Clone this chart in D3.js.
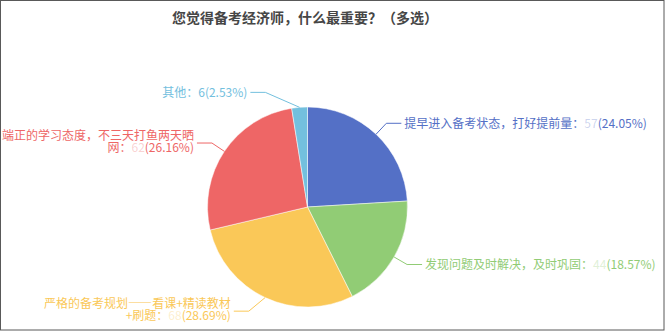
<!DOCTYPE html>
<html>
<head>
<meta charset="utf-8">
<script src="https://cdn.jsdelivr.net/npm/d3@7"></script>
<style>
  html, body { margin: 0; padding: 0; background: #fff; }
  svg { display: block; font-family: "Noto Sans CJK SC", "Noto Sans", sans-serif; }
  .fw { font-variant-east-asian: full-width; font-feature-settings: "fwid" 1; }
</style>
</head>
<body>
<svg id="chart" width="665" height="332"></svg>
<script>
// answers, counts (other = 6 -> 2.53%)
const names = [
  '提早进入备考状态，打好提前量',
  '发现问题及时解决，及时巩固',
  '严格的备考规划——看课+精读教材+刷题',
  '端正的学习态度，不三天打鱼两天晒网',
  '其他'
];
const counts = [57, 44, 68, 62, 6];
const colors = ['#5470c6', '#91cc75', '#fac858', '#ee6666', '#73c0de'];
const title = '您觉得备考经济师，什么最重要？（多选）';

const svg = d3.select('#chart');
const width = +svg.attr('width');
const height = +svg.attr('height');

// frame
svg.append('rect')
  .attr('x', 0.5).attr('y', 0.5)
  .attr('width', width - 1.5).attr('height', height - 2.5)
  .attr('fill', 'none')
  .attr('stroke', '#595959')
  .attr('stroke-width', 1);

svg.append('text')
  .attr('x', 305)
  .attr('y', 18)
  .attr('dy', '0.35em')
  .attr('text-anchor', 'middle')
  .style('font-size', '14px')
  .style('font-weight', 'bold')
  .attr('fill', '#464646')
  .text(title);

const cx = 307.5, cy = 207, r = 100;
const total = d3.sum(counts);
const color = d3.scaleOrdinal().domain(names).range(colors);

const data = names.map((n, i) => ({ name: n, value: counts[i] }));
const pie = d3.pie().sort(null).value(d => d.value);
const arcs = pie(data);
const arc = d3.arc().innerRadius(0).outerRadius(r);

const g = svg.append('g').attr('transform', 'translate(' + cx + ',' + cy + ')');

g.selectAll('path.slice')
  .data(arcs)
  .enter().append('path')
  .attr('class', 'slice')
  .attr('d', arc)
  .attr('fill', d => color(d.data.name))
  .attr('stroke', '#fff')
  .attr('stroke-width', 0.5);

// label layout
const len1 = 15, len2 = 15, maxW = 196, lineH = 12;
// horizontal nudges where labels got pushed aside in the original
const nudge = { 2: -10, 4: -33 };

// measure with a hidden svg text so widths match what gets drawn
const probe = svg.append('text').style('font-size', '12px').attr('visibility', 'hidden');
const cache = {};
function charW(ch, fw) {
  const k = ch + (fw ? '1' : '0');
  if (cache[k] == null) {
    probe.attr('class', fw ? 'fw' : null).text(ch);
    cache[k] = probe.node().getComputedTextLength();
  }
  return cache[k];
}

// each run: {t, faded, fw}; em dashes get the full-width glyphs,
// a '+' stays on the line of the character after it
function wrap(segs, limit) {
  const chars = [];
  segs.forEach(s => { for (const ch of s.t) chars.push({ ch: ch, faded: s.faded, fw: ch === '—' }); });
  const lines = [[]];
  let w = 0;
  chars.forEach((c, j) => {
    const cw = charW(c.ch, c.fw);
    let need = cw;
    if (c.ch === '+' && chars[j + 1]) need += charW(chars[j + 1].ch, chars[j + 1].fw);
    if (w > 0 && w + need > limit) { lines.push([]); w = 0; }
    const line = lines[lines.length - 1];
    const last = line[line.length - 1];
    if (last && last.faded === c.faded && last.fw === c.fw) last.t += c.ch;
    else line.push({ t: c.ch, faded: c.faded, fw: c.fw });
    w += cw;
  });
  return lines;
}

arcs.forEach((d, i) => {
  const a = (d.startAngle + d.endAngle) / 2;
  const sx = Math.sin(a), sy = -Math.cos(a);
  const p1 = [sx * r, sy * r];
  const p2 = [sx * (r + len1) + (nudge[i] || 0), sy * (r + len1)];
  const right = sx >= 0;
  const p3 = [p2[0] + (right ? len2 : -len2), p2[1]];
  const c = color(d.data.name);

  g.append('polyline')
    .attr('points', [p1, p2, p3].map(p => p.join(',')).join(' '))
    .attr('fill', 'none')
    .attr('stroke', c)
    .attr('stroke-width', 1);

  const pct = (d.data.value / total * 100).toFixed(2);
  const segs = [
    { t: d.data.name + '：', faded: false },
    { t: String(d.data.value), faded: i !== 4 },
    { t: '(' + pct + '%)', faded: false }
  ];
  const tx = p3[0] + (right ? 3 : -3);
  const room = right ? width - (cx + tx) - 4 : cx + tx;
  const lines = wrap(segs, right ? room : Math.min(room, maxW));
  const y0 = p3[1] - (lines.length - 1) * lineH / 2 - (lines.length > 1 ? 1.5 : 0);
  lines.forEach((line, k) => {
    const t = g.append('text')
      .attr('x', tx)
      .attr('y', y0 + k * lineH)
      .attr('dy', '0.35em')
      .attr('text-anchor', right ? 'start' : 'end')
      .style('font-size', '12px')
      .attr('fill', c);
    line.forEach(s => {
      t.append('tspan')
        .attr('class', s.fw ? 'fw' : null)
        .attr('fill-opacity', s.faded ? 0.3 : 1)
        .text(s.t);
    });
  });
});
probe.remove();
</script>
</body>
</html>
